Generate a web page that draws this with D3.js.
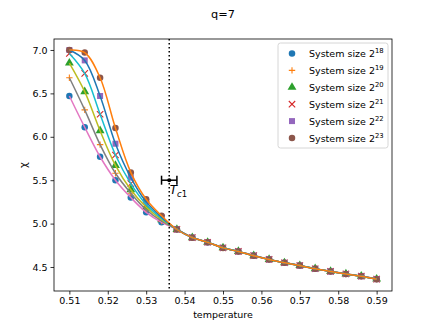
<!DOCTYPE html>
<html>
<head>
<meta charset="utf-8">
<script src="https://cdn.jsdelivr.net/npm/d3@7"></script>
<style>
  body { margin: 0; background: #fff; }
  text { font-family: "DejaVu Sans", sans-serif; fill: #000; }
</style>
</head>
<body>
<svg id="chart" width="436" height="327"></svg>
<script>
// temperatures sampled
const temps = [0.510, 0.514, 0.518, 0.522, 0.526, 0.530, 0.534, 0.538, 0.542, 0.546, 0.550,
               0.554, 0.558, 0.562, 0.566, 0.570, 0.574, 0.578, 0.582, 0.586, 0.590];
// chi per system size
const chi18 = [6.47, 6.11, 5.77, 5.50, 5.30, 5.13, 5.015, 4.935, 4.840, 4.785, 4.722, 4.680, 4.632, 4.588, 4.550, 4.518, 4.480, 4.450, 4.420, 4.395, 4.362];
const chi19 = [6.68, 6.31, 5.91, 5.58, 5.35, 5.16, 5.030, 4.935, 4.840, 4.786, 4.722, 4.680, 4.632, 4.588, 4.550, 4.518, 4.481, 4.450, 4.421, 4.395, 4.362];
const chi20 = [6.85, 6.52, 6.07, 5.67, 5.39, 5.19, 5.045, 4.934, 4.839, 4.785, 4.721, 4.679, 4.631, 4.587, 4.549, 4.517, 4.480, 4.449, 4.420, 4.394, 4.361];
const chi21 = [6.96, 6.73, 6.26, 5.79, 5.46, 5.22, 5.060, 4.934, 4.839, 4.785, 4.721, 4.679, 4.631, 4.587, 4.549, 4.517, 4.480, 4.449, 4.420, 4.394, 4.361];
const chi22 = [7.00, 6.88, 6.47, 5.92, 5.53, 5.25, 5.075, 4.933, 4.838, 4.784, 4.720, 4.678, 4.630, 4.586, 4.548, 4.516, 4.479, 4.448, 4.419, 4.393, 4.360];
const chi23 = [7.00, 6.97, 6.68, 6.10, 5.59, 5.28, 5.090, 4.932, 4.838, 4.784, 4.720, 4.678, 4.630, 4.586, 4.548, 4.516, 4.479, 4.448, 4.419, 4.393, 4.360];
const exponents = ["18", "19", "20", "21", "22", "23"];
const xTicks = [0.51, 0.52, 0.53, 0.54, 0.55, 0.56, 0.57, 0.58, 0.59];
const yTicks = [4.5, 5.0, 5.5, 6.0, 6.5, 7.0];
// critical temperature estimate
const tc = 0.536, tcErr = 0.002, tcY = 5.5;

const series = [chi18, chi19, chi20, chi21, chi22, chi23];
const markerColors = ["#1f77b4", "#ff7f0e", "#2ca02c", "#d62728", "#9467bd", "#8c564b"];
const lineColors = ["#e377c2", "#7f7f7f", "#bcbd22", "#17becf", "#1f77b4", "#ff7f0e"];
const markerShapes = ["circle", "plus", "triangle", "cross", "square", "circle"];

const svg = d3.select("#chart");
const mLeft = 54, mRight = 392, mTop = 39, mBottom = 291;

const x = d3.scaleLinear().domain([0.506, 0.594]).range([mLeft, mRight]);
const y = d3.scaleLinear().domain([4.2235, 7.1265]).range([mBottom, mTop]);

// axes
const xAxis = svg.append("g").attr("transform", "translate(0," + mBottom + ")")
  .call(d3.axisBottom(x).tickValues(xTicks).tickFormat(d3.format(".2f")).tickSizeOuter(0).tickSize(3.5).tickPadding(3));
const yAxis = svg.append("g").attr("transform", "translate(" + mLeft + ",0)")
  .call(d3.axisLeft(y).tickValues(yTicks).tickFormat(d3.format(".1f")).tickSizeOuter(0).tickSize(3.5).tickPadding(3));
[xAxis, yAxis].forEach(function(a) {
  a.select(".domain").remove();
  a.selectAll("text").attr("font-size", "9.5px").attr("font-family", "DejaVu Sans");
  a.selectAll("line").attr("stroke", "#000").attr("stroke-width", 0.8);
});

// markers
const sym = {
  circle: d3.symbol().type(d3.symbolCircle).size(33),
  triangle: d3.symbol().type(d3.symbolTriangle).size(34),
  square: d3.symbol().type(d3.symbolSquare).size(36)
};
function drawMarker(g, shape, color, cx, cy) {
  if (shape === "plus" || shape === "cross") {
    const r = 3.2;
    const p = shape === "plus"
      ? "M" + (-r) + ",0H" + r + "M0," + (-r) + "V" + r
      : "M" + (-r) + "," + (-r) + "L" + r + "," + r + "M" + (-r) + "," + r + "L" + r + "," + (-r);
    g.append("path").attr("d", p).attr("transform", "translate(" + cx + "," + cy + ")")
      .attr("stroke", color).attr("stroke-width", 1.1).attr("fill", "none");
  } else {
    g.append("path").attr("d", sym[shape]()).attr("transform", "translate(" + cx + "," + cy + ")")
      .attr("fill", color);
  }
}

const plot = svg.append("g");
series.forEach(function(vals, i) {
  const g = plot.append("g");
  vals.forEach(function(v, j) { drawMarker(g, markerShapes[i], markerColors[i], x(temps[j]), y(v)); });
});

// smooth curves on top
const line = d3.line().x(function(d) { return x(d[0]); }).y(function(d) { return y(d[1]); })
  .curve(d3.curveCatmullRom.alpha(0.5));
series.forEach(function(vals, i) {
  plot.append("path").datum(temps.map(function(t, j) { return [t, vals[j]]; }))
    .attr("d", line).attr("fill", "none").attr("stroke", lineColors[i]).attr("stroke-width", 1.5);
});

// vertical dotted line at Tc
svg.append("line").attr("x1", x(tc)).attr("x2", x(tc)).attr("y1", mTop).attr("y2", mBottom)
  .attr("stroke", "#000").attr("stroke-width", 1.5).attr("stroke-dasharray", "1.5,2.5");

// error bar
const eb = svg.append("g").attr("stroke", "#000").attr("stroke-width", 1.5);
eb.append("line").attr("x1", x(tc - tcErr)).attr("x2", x(tc + tcErr)).attr("y1", y(tcY)).attr("y2", y(tcY));
[tc - tcErr, tc + tcErr].forEach(function(t) {
  eb.append("line").attr("x1", x(t)).attr("x2", x(t)).attr("y1", y(tcY) - 4.5).attr("y2", y(tcY) + 4.5);
});
svg.append("circle").attr("cx", x(tc)).attr("cy", y(tcY)).attr("r", 2).attr("fill", "#000");

const tcl = svg.append("text").attr("x", x(tc) + 0.5).attr("y", y(tcY) + 14).attr("font-size", "12px");
tcl.append("tspan").attr("font-style", "italic").text("T");
tcl.append("tspan").attr("dy", 3).attr("font-size", "8.5px").attr("font-style", "italic").text("c");
tcl.append("tspan").attr("font-size", "8.5px").text("1");

// frame
svg.append("rect").attr("x", mLeft).attr("y", mTop).attr("width", mRight - mLeft).attr("height", mBottom - mTop)
  .attr("fill", "none").attr("stroke", "#000").attr("stroke-width", 0.8);

// title and labels
svg.append("text").attr("x", (mLeft + mRight) / 2).attr("y", 18).attr("text-anchor", "middle")
  .attr("font-size", "11.3px").text("q=7");
svg.append("text").attr("x", (mLeft + mRight) / 2).attr("y", 318).attr("text-anchor", "middle")
  .attr("font-size", "9.5px").text("temperature");
svg.append("text").attr("transform", "translate(27," + ((mTop + mBottom) / 2) + ") rotate(-90)")
  .attr("text-anchor", "middle").attr("font-size", "10px").text("χ");

// legend
const lg = svg.append("g");
lg.append("rect").attr("x", 278).attr("y", 43).attr("width", 110).attr("height", 105).attr("rx", 2.5)
  .attr("fill", "#fff").attr("fill-opacity", 0.8).attr("stroke", "#cccccc").attr("stroke-width", 0.8);
exponents.forEach(function(e, i) {
  const ly = 53.5 + i * 16.9;
  drawMarker(lg, markerShapes[i], markerColors[i], 292, ly);
  const t = lg.append("text").attr("x", 309).attr("y", ly + 3.5).attr("font-size", "9.5px");
  t.append("tspan").text("System size 2");
  t.append("tspan").attr("dy", -4).attr("font-size", "6.8px").text(e);
});
</script>
</body>
</html>
